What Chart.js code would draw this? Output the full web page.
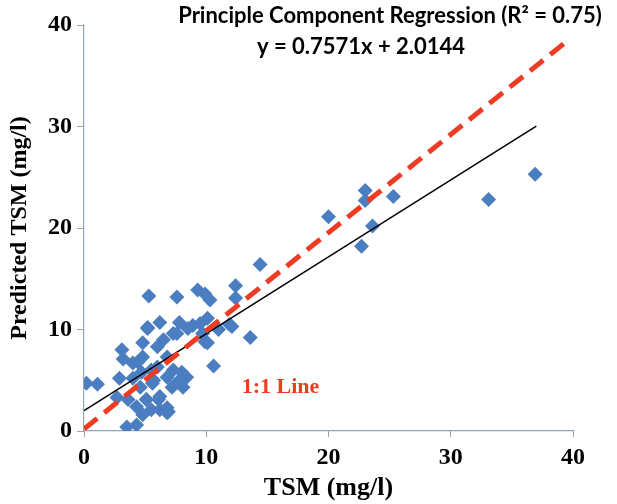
<!DOCTYPE html>
<html>
<head>
<meta charset="utf-8">
<script src="https://cdn.jsdelivr.net/npm/chart.js@4/dist/chart.umd.min.js"></script>
<style>
  html, body { margin: 0; padding: 0; background: #fff; }
  #wrap { width: 617px; height: 504px; }
</style>
</head>
<body>
<div id="wrap"><canvas id="pcrChart"></canvas></div>
<script>
const measured = [
  0.2, 1.1, 2.7, 2.9, 3.1, 3.2, 3.5, 3.6, 4.0, 4.0, 4.3, 4.3, 4.4, 4.6, 4.7,
  4.8, 4.8, 4.8, 5.1, 5.1, 5.2, 5.2, 5.3, 5.5, 5.5, 5.6, 5.7, 6.0, 6.0, 6.1,
  6.2, 6.2, 6.2, 6.5, 6.8, 6.8, 6.8, 6.8, 6.9, 7.2, 7.3, 7.3, 7.6, 7.6, 7.8,
  7.8, 8.0, 8.1, 8.4, 8.5, 8.9, 9.3, 9.5, 9.7, 9.9, 9.9, 10.1, 10.1, 10.3,
  10.6, 11.0, 11.9, 12.1, 12.4, 12.4, 13.6, 14.4, 20.0, 22.7, 23.0, 23.0,
  23.6, 25.3, 33.1, 36.9
];
const predicted = [
  4.7, 4.6, 3.3, 5.2, 8.0, 7.1, 0.4, 3.1, 6.7, 5.2, 2.4, 0.6, 6.8, 4.3, 5.8,
  7.3, 1.6, 8.7, 3.1, 3.1, 10.2, 10.1, 13.3, 6.0, 2.1, 4.7, 5.0, 8.3, 6.3, 3.1,
  10.7, 3.4, 2.1, 9.0, 7.3, 1.8, 5.3, 2.3, 1.9, 4.3, 9.6, 6.0, 13.2, 9.6, 10.7,
  5.0, 5.8, 4.3, 5.3, 10.1, 10.4, 13.9, 10.6, 9.6, 13.5, 8.8, 11.1, 8.7, 12.9,
  6.4, 10.0, 10.5, 10.3, 14.3, 13.1, 9.2, 16.4, 21.1, 18.2, 23.7, 22.7,
  20.2, 23.1, 22.8, 25.3
];

// linear trend from the figure label, drawn from x = 0 to x = 37
const slope = 0.7571;
const intercept = 2.0144;
const trendX = [0, 37];
// "1:1" reference line as it appears in the figure
const oneToOneX = [0, 39.5];
const oneToOneY = [0.2, 38.4];

const xTicks = [0, 10, 20, 30, 40];
const yTicks = [0, 10, 20, 30, 40];

const points = measured.map((x, i) => ({ x: x, y: predicted[i] }));
const trend = trendX.map(x => ({ x: x, y: slope * x + intercept }));
const oneToOne = oneToOneX.map((x, i) => ({ x: x, y: oneToOneY[i] }));

const serif = '"Liberation Serif", "Times New Roman", serif';
const sans = 'Lato, "Open Sans", sans-serif';

const labelsPlugin = {
  id: 'labels',
  afterDraw(chart) {
    const c = chart.ctx;
    const xs = chart.scales.x, ys = chart.scales.y;
    c.save();
    c.fillStyle = '#000';
    c.textAlign = 'center';
    c.textBaseline = 'middle';
    c.font = 'bold 22px ' + sans;
    c.fillText('Principle Component Regression (R\u00B2 = 0.75)', 390, 16);
    c.fillText('y = 0.7571x + 2.0144', 361, 47);
    c.fillStyle = '#ee3b24';
    c.textAlign = 'left';
    c.font = 'bold 22px ' + serif;
    c.fillText('1:1 Line', xs.getPixelForValue(12.9), ys.getPixelForValue(4.3));
    c.restore();
  }
};

const ctx = document.getElementById('pcrChart').getContext('2d');
new Chart(ctx, {
  type: 'scatter',
  data: {
    datasets: [
      {
        label: 'Line 1:1',
        data: oneToOne,
        showLine: true,
        borderColor: '#ee3b24',
        borderWidth: 5,
        borderDash: [17, 9],
        pointRadius: 0,
        order: 0
      },
      {
        label: 'Trend',
        data: trend,
        showLine: true,
        borderColor: '#000',
        borderWidth: 1.5,
        pointRadius: 0,
        order: 1
      },
      {
        label: 'PCR',
        data: points,
        pointStyle: 'rectRot',
        pointRadius: 7.5,
        pointBackgroundColor: '#4a7ec0',
        pointBorderWidth: 0,
        order: 2
      }
    ]
  },
  options: {
    responsive: true,
    maintainAspectRatio: false,
    animation: false,
    layout: { padding: { top: 25, right: 44, left: 0, bottom: 0 } },
    plugins: {
      legend: { display: false },
      tooltip: { enabled: false }
    },
    scales: {
      x: {
        type: 'linear',
        min: 0,
        max: 40,
        afterBuildTicks: s => { s.ticks = xTicks.map(v => ({ value: v })); },
        afterFit: s => { s.height = 73; },
        border: { color: '#97a3b4', width: 1.2 },
        grid: { drawOnChartArea: false, color: '#97a3b4', tickLength: 6 },
        ticks: { color: '#000', padding: 6, font: { family: serif, size: 24, weight: 'bold' } },
        title: {
          display: true,
          text: 'TSM (mg/l)',
          color: '#000',
          padding: { top: 0, bottom: 0 },
          font: { family: serif, size: 26, weight: 'bold' }
        }
      },
      y: {
        type: 'linear',
        min: 0,
        max: 40,
        afterBuildTicks: s => { s.ticks = yTicks.map(v => ({ value: v })); },
        afterFit: s => { s.width = 84; },
        border: { color: '#97a3b4', width: 1.2 },
        grid: { drawOnChartArea: false, color: '#97a3b4', tickLength: 7 },
        ticks: { color: '#000', padding: 5, font: { family: serif, size: 24, weight: 'bold' } },
        title: {
          display: true,
          text: 'Predicted TSM (mg/l)',
          color: '#000',
          padding: { top: 5, bottom: 0 },
          font: { family: serif, size: 24, weight: 'bold' }
        }
      }
    }
  },
  plugins: [labelsPlugin]
});
</script>
</body>
</html>
